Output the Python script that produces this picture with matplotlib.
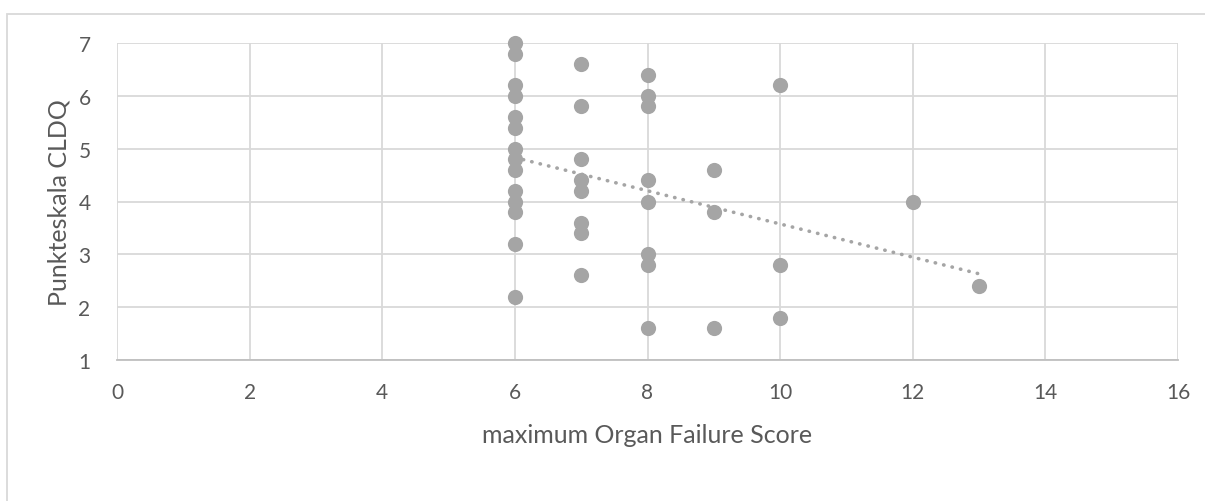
import matplotlib.pyplot as plt
import numpy as np
from matplotlib.patches import Rectangle

# maximum Organ Failure Score vs. Punkteskala CLDQ
mofs = [6] * 14 + [7] * 8 + [8] * 8 + [9] * 3 + [10] * 3 + [12, 13]
cldq = [7.0, 6.8, 6.2, 6.0, 5.6, 5.4, 5.0, 4.8, 4.6, 4.2, 4.0, 3.8, 3.2, 2.2,
        6.6, 5.8, 4.8, 4.4, 4.2, 3.6, 3.4, 2.6,
        6.4, 6.0, 5.8, 4.4, 4.0, 3.0, 2.8, 1.6,
        4.6, 3.8, 1.6,
        6.2, 2.8, 1.8,
        4.0, 2.4]

x_ticks = np.arange(0, 17, 2)
y_ticks = np.arange(1, 8, 1)

plt.rcParams['font.family'] = ['Lato', 'DejaVu Sans']
txt = '#595959'
grid = '#D9D9D9'
punkt = '#A5A5A5'

fig = plt.figure(figsize=(12.05, 5.02), dpi=100)
ax = fig.add_axes([117 / 1205, 1 - 361 / 502, (1178 - 117) / 1205, (361 - 44) / 502])

# Rahmen um das Diagramm
fig.patches.append(Rectangle((7 / 1205, -0.1), 1.2, 1 - 15 / 502 + 0.1,
                             transform=fig.transFigure, fill=False,
                             edgecolor='#D9D9D9', linewidth=1.3))

ax.scatter(mofs, cldq, s=120, color=punkt, zorder=3, linewidths=0, clip_on=False)

# lineare Trendlinie
x = np.array(mofs, dtype=float)
y = np.array(cldq)
k, d = np.polyfit(x, y, 1)
xt = np.array([x.min(), x.max()])
ax.plot(xt, k * xt + d, color=punkt, linestyle=(0, (0.1, 2.3)), linewidth=2.6,
        dash_capstyle='round', zorder=2)

ax.set_xlim(0, 16)
ax.set_ylim(1, 7)
ax.set_xticks(x_ticks)
ax.set_yticks(y_ticks)
ax.grid(True, color=grid, linewidth=1.3)
ax.set_axisbelow(True)
for s in ['top', 'right', 'left']:
    ax.spines[s].set_visible(False)
ax.spines['bottom'].set_color('#BFBFBF')
ax.spines['bottom'].set_linewidth(1.3)
ax.tick_params(length=0, labelsize=15, colors=txt)
ax.tick_params(axis='x', pad=16)
ax.tick_params(axis='y', pad=19)

ax.set_xlabel('maximum Organ Failure Score', fontsize=18, color=txt, labelpad=15)
ax.set_ylabel('Punkteskala CLDQ', fontsize=18, color=txt, labelpad=6)

plt.savefig('out.png', dpi=100)
